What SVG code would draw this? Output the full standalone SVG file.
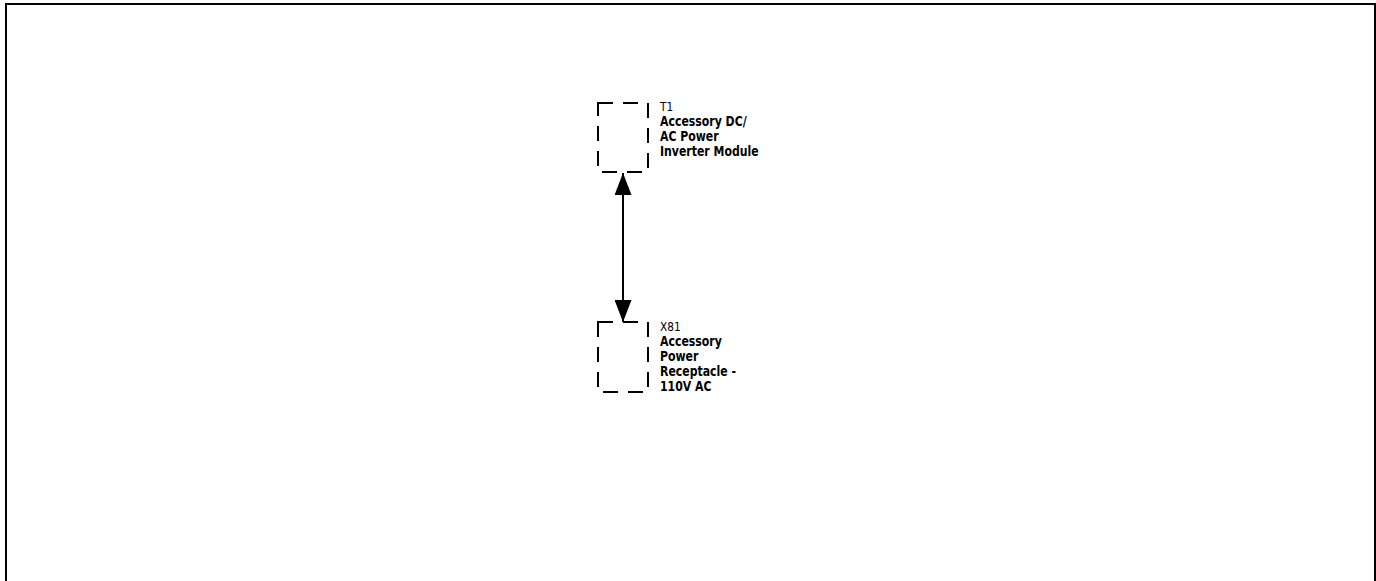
<svg xmlns="http://www.w3.org/2000/svg" width="1376" height="581" viewBox="0 0 1376 581">
<style>
.frame{fill:none;stroke:#000;stroke-width:2}
.box{fill:none;stroke:#000;stroke-width:2;stroke-dasharray:15 10}
.ref{font-family:"DejaVu Sans Condensed","DejaVu Sans",sans-serif;font-size:13px;fill:#000}
.lbl{font-family:"DejaVu Sans Condensed","DejaVu Sans",sans-serif;font-size:13.5px;font-weight:bold;fill:#000}
.conn{stroke:#000;stroke-width:2;fill:none}
</style>
<defs>
<marker id="ah" viewBox="0 0 10 10" refX="10" refY="5" markerWidth="22" markerHeight="17" markerUnits="userSpaceOnUse" orient="auto-start-reverse" preserveAspectRatio="none">
<path d="M0,0 L10,5 L0,10 Z" fill="#000"/>
</marker>
</defs>
<rect x="0" y="0" width="1376" height="581" fill="#fff"/>
<path class="frame" d="M6,581 V4 H1375 V581"/>
<g id="T1">
<rect class="box" x="598" y="103" width="50" height="69"/>
<g transform="translate(660,0) scale(0.9,1) translate(-660,0)">
<text class="ref" x="660" y="111">T1</text>
<text class="lbl" x="660" y="126">Accessory DC/</text>
<text class="lbl" x="660" y="141">AC Power</text>
<text class="lbl" x="660" y="156">Inverter Module</text>
</g>
</g>
<g id="X81">
<rect class="box" x="598" y="322" width="50" height="70"/>
<g transform="translate(660,0) scale(0.9,1) translate(-660,0)">
<text class="ref" x="660" y="331">X81</text>
<text class="lbl" x="660" y="346">Accessory</text>
<text class="lbl" x="660" y="361">Power</text>
<text class="lbl" x="660" y="376">Receptacle -</text>
<text class="lbl" x="660" y="391">110V AC</text>
</g>
</g>
<g id="connectors">
<line class="conn" x1="623" y1="173" x2="623" y2="322" marker-start="url(#ah)" marker-end="url(#ah)"/>
</g>
</svg>
